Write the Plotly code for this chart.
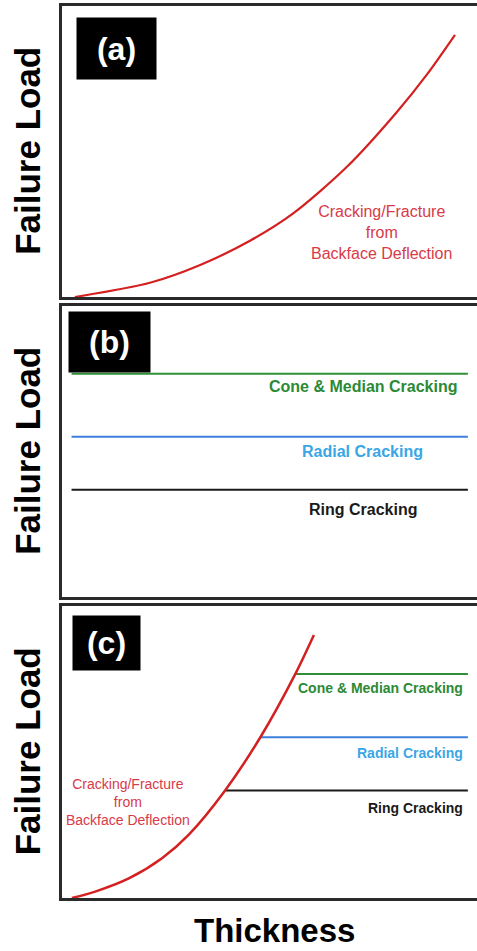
import plotly.graph_objects as go

# Thickness / failure-load curve for backface deflection (panel a)
curve_a_x = [3.1, 21.2, 33.3, 45.3, 55.7, 68.6, 80.7, 88.0, 94.7]
curve_a_y = [0.0, 4.9, 11.0, 19.3, 28.7, 44.6, 63.5, 76.5, 90.0]

# Thickness-independent cracking loads (panels b and c)
mode_names = ["Cone & Median Cracking", "Radial Cracking", "Ring Cracking"]
mode_levels = [76.6, 55.0, 36.8]
mode_line_colors = ["#2f8f35", "#3d7fdc", "#1a1a1a"]
mode_text_colors = ["#2b8a36", "#3aa6e6", "#1a1a1a"]
line_start_b = [2.3, 2.3, 2.3]
line_end = [97.8, 97.8, 97.8]

# Steeper backface-deflection curve for panel c; it crosses each mode level
curve_c_x = [2.4, 8.0, 16.1, 24.1, 30.5, 39.3, 47.8, 56.2, 60.7]
curve_c_y = [0.0, 2.2, 6.7, 13.6, 21.6, 36.8, 55.0, 76.6, 90.0]
line_start_c = [56.2, 47.8, 39.3]

panel_tags = ["(a)", "(b)", "(c)"]
y_title = "Failure Load"
x_title = "Thickness"
deflection_label = "Cracking/Fracture<br>from<br>Backface Deflection"

RED = "#d42020"
RED_TEXT = "#d83a48"
FONT = "Liberation Sans, Arial, sans-serif"

W, H = 477, 951
x_dom = [62 / W, 1.0]
y_doms = [
    [1 - 297 / H, 1 - 5.7 / H],
    [1 - 597 / H, 1 - 305.7 / H],
    [1 - 898 / H, 1 - 605.7 / H],
]

fig = go.Figure()

# panel a
fig.add_trace(go.Scatter(x=curve_a_x, y=curve_a_y, mode="lines",
                         line=dict(color=RED, width=2.2, shape="spline", smoothing=0.8),
                         xaxis="x", yaxis="y", hoverinfo="skip"))

# panel b
for lvl, col, x0, x1 in zip(mode_levels, mode_line_colors, line_start_b, line_end):
    fig.add_trace(go.Scatter(x=[x0, x1], y=[lvl, lvl], mode="lines",
                             line=dict(color=col, width=2),
                             xaxis="x2", yaxis="y2", hoverinfo="skip"))

# panel c
for lvl, col, x0, x1 in zip(mode_levels, mode_line_colors, line_start_c, line_end):
    fig.add_trace(go.Scatter(x=[x0, x1], y=[lvl, lvl], mode="lines",
                             line=dict(color=col, width=2),
                             xaxis="x3", yaxis="y3", hoverinfo="skip"))
fig.add_trace(go.Scatter(x=curve_c_x, y=curve_c_y, mode="lines",
                         line=dict(color=RED, width=2.5, shape="spline", smoothing=0.8),
                         xaxis="x3", yaxis="y3", hoverinfo="skip"))

axis_common = dict(range=[0, 100], showticklabels=False, ticks="", showgrid=False,
                   zeroline=False, showline=True, linecolor="#2a2a2a", linewidth=2.5,
                   fixedrange=True)

layout = dict(
    width=W, height=H, margin=dict(l=0, r=0, t=0, b=0),
    paper_bgcolor="white", plot_bgcolor="white", showlegend=False,
    font=dict(family=FONT),
)
for i, yd in enumerate(y_doms):
    sfx = "" if i == 0 else str(i + 1)
    layout["xaxis" + sfx] = dict(axis_common, domain=x_dom, mirror=True,
                                 anchor="y" + sfx)
    layout["yaxis" + sfx] = dict(axis_common, domain=yd, mirror=False,
                                 anchor="x" + sfx)
fig.update_layout(**layout)

ann = []
# panel tags in black boxes
tag_boxes = [(76.3, 16.7, 79, 61), (68.3, 310.7, 81, 60), (71.7, 615, 67, 54)]
for tag, (bx, by, bw, bh) in zip(panel_tags, tag_boxes):
    ann.append(dict(text=tag, xref="paper", yref="paper",
                    x=bx / W, y=1 - by / H, xanchor="left", yanchor="top",
                    width=bw, height=bh, bgcolor="black", borderpad=0,
                    showarrow=False, align="center", valign="middle",
                    font=dict(color="white", size=32, family=FONT, weight="bold")))

# y titles
for yd in y_doms:
    ann.append(dict(text=y_title, xref="paper", yref="paper",
                    x=27.5 / W, y=(yd[0] + yd[1]) / 2, textangle=-90,
                    xanchor="center", yanchor="middle", showarrow=False,
                    font=dict(size=35, color="black", family=FONT, weight="bold")))

# x title, kept fully inside the bottom edge
ann.append(dict(text=x_title, xref="paper", yref="paper", x=274.5 / W, y=1.5 / H,
                xanchor="center", yanchor="bottom", showarrow=False, borderpad=0,
                font=dict(size=33, color="black", family=FONT, weight="bold")))

# panel a label
ann.append(dict(text=deflection_label, xref="x", yref="y", x=77.0, y=22.2,
                xanchor="center", yanchor="middle", showarrow=False,
                font=dict(size=16, color=RED_TEXT, family=FONT)))

# panel b labels
label_y_b = [72.3, 49.9, 30.2]
for name, col, ly in zip(mode_names, mode_text_colors, label_y_b):
    ann.append(dict(text=name, xref="x2", yref="y2", x=72.5, y=ly,
                    xanchor="center", yanchor="middle", showarrow=False,
                    font=dict(size=16, color=col, family=FONT, weight="bold")))

# panel c labels
label_y_c = [71.7, 49.5, 30.9]
for name, col, ly in zip(mode_names, mode_text_colors, label_y_c):
    ann.append(dict(text=name, xref="x3", yref="y3", x=97.1, y=ly,
                    xanchor="right", yanchor="middle", showarrow=False,
                    font=dict(size=14, color=col, family=FONT, weight="bold")))
ann.append(dict(text=deflection_label, xref="x3", yref="y3", x=16.0, y=32.9,
                xanchor="center", yanchor="middle", showarrow=False,
                font=dict(size=14, color=RED_TEXT, family=FONT)))

fig.update_layout(annotations=ann)
fig.write_html("out.html")
